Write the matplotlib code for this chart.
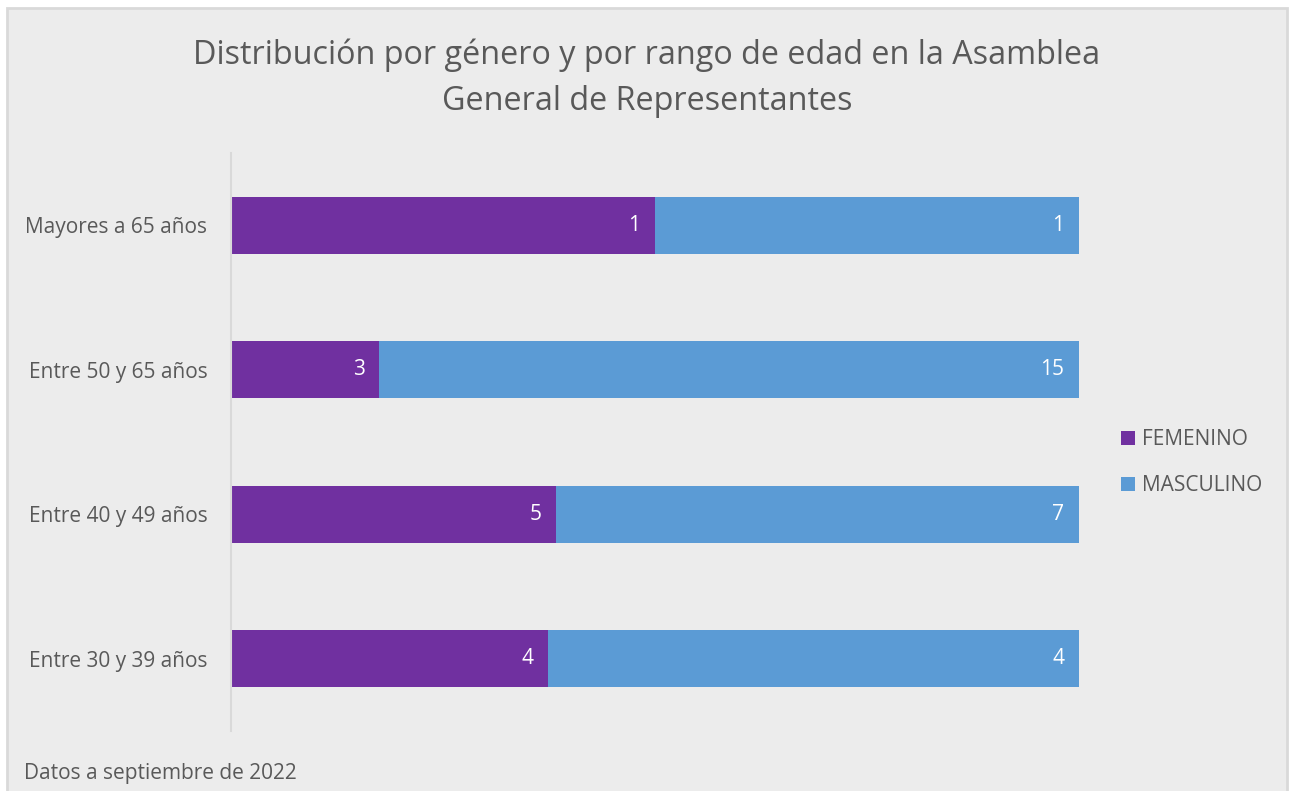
import matplotlib.pyplot as plt
from matplotlib.patches import Rectangle

# Age groups, bottom to top as drawn
categories = ["Entre 30 y 39 años", "Entre 40 y 49 años", "Entre 50 y 65 años", "Mayores a 65 años"]
# Counts shown as data labels
femenino = [4, 5, 3, 1]
masculino = [4, 7, 15, 1]
# Share of the bar taken by each segment (%)
femenino_pct = [37.4, 38.3, 17.5, 50.0]
masculino_pct = [62.6, 61.7, 82.5, 50.0]

PURPLE = "#7030A0"
BLUE = "#5B9BD5"
TEXT = "#595959"
BG = "#ECECEC"

plt.rcParams["font.family"] = ["Open Sans", "DejaVu Sans"]

fig = plt.figure(figsize=(12.93, 7.91), dpi=100)
fig.patch.set_facecolor("white")

# Chart area background with light border
fig.add_artist(Rectangle((7 / 1293, -0.01), 1280 / 1293, 1 - 8 / 791 + 0.01,
                         transform=fig.transFigure, facecolor=BG,
                         edgecolor="#D9D9D9", linewidth=2, zorder=-10))

ax = fig.add_axes([231 / 1293, 1 - 731 / 791, 848 / 1293, 578 / 791])
ax.set_facecolor("none")

y = range(len(categories))
ax.barh(y, femenino_pct, height=0.395, color=PURPLE, label="FEMENINO", zorder=2)
ax.barh(y, masculino_pct, left=femenino_pct, height=0.395, color=BLUE, label="MASCULINO", zorder=2)

for i in y:
    ax.annotate(str(femenino[i]), (femenino_pct[i], i), xytext=(-10.5, 0),
                textcoords="offset points", ha="right", va="center",
                color="white", fontsize=15, zorder=3)
    ax.annotate(str(masculino[i]), (femenino_pct[i] + masculino_pct[i], i), xytext=(-10.5, 0),
                textcoords="offset points", ha="right", va="center",
                color="white", fontsize=15, zorder=3)

ax.set_xlim(0, 100)
ax.set_ylim(-0.5, len(categories) - 0.5)
ax.set_yticks(list(y))
ax.set_yticklabels(categories, color=TEXT, fontsize=15)
ax.tick_params(axis="y", length=0, pad=17)
ax.set_xticks([])
for side in ["top", "right", "bottom"]:
    ax.spines[side].set_visible(False)
ax.spines["left"].set_color("#D9D9D9")
ax.spines["left"].set_linewidth(1.5)

fig.text(647 / 1293, 1 - 78 / 791,
         "Distribución por género y por rango de edad en la Asamblea\nGeneral de Representantes",
         ha="center", va="center", fontsize=23.3, color=TEXT, linespacing=1.5)

leg = fig.legend(loc="center left", bbox_to_anchor=(1102 / 1293, 1 - 463 / 791),
                 frameon=False, fontsize=15, labelcolor=TEXT,
                 handlelength=0.7, handleheight=0.7, handletextpad=0.3,
                 labelspacing=1.2)

fig.text(24 / 1293, 1 - 773 / 791, "Datos a septiembre de 2022",
         ha="left", va="center", fontsize=15, color=TEXT)

fig.savefig("out.png", dpi=100, facecolor=fig.get_facecolor())
